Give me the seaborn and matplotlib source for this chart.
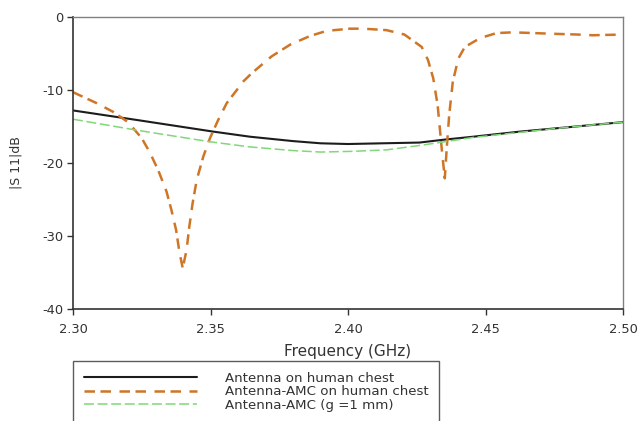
import numpy as np
import pandas as pd
import matplotlib
matplotlib.use("Agg")
import matplotlib.pyplot as plt
import seaborn as sns

# ===== data (GHz, dB) =====
FREQ_CHEST = [2.30, 2.3231, 2.351, 2.3644, 2.38, 2.39, 2.40, 2.4127, 2.426, 2.435,
              2.4455, 2.4625, 2.48, 2.50]
S11_CHEST = [-12.8, -14.1, -15.7, -16.4, -17.0, -17.3, -17.4, -17.3, -17.2, -16.8,
             -16.4, -15.7, -15.1, -14.4]

FREQ_AMC_CHEST = [2.300, 2.3086, 2.3146, 2.320, 2.325, 2.328, 2.331, 2.334, 2.3359, 2.3375,
                  2.3387, 2.3399, 2.3413, 2.3423, 2.3435, 2.345, 2.3474, 2.3498, 2.3528, 2.3559,
                  2.362, 2.365, 2.3722, 2.3789, 2.3862, 2.3922, 2.4007, 2.4055, 2.414, 2.4205,
                  2.4268, 2.4291, 2.431, 2.4326, 2.4335, 2.4343, 2.4352, 2.4359, 2.4368, 2.4381,
                  2.4401, 2.4425, 2.448, 2.454, 2.46, 2.4746, 2.4833, 2.489, 2.50]
S11_AMC_CHEST = [-10.3, -11.8, -13.0, -14.4, -16.6, -18.6, -21.0, -23.9, -26.6, -29.2,
                 -32.2, -34.4, -31.9, -28.7, -25.5, -22.3, -19.1, -16.6, -14.1, -11.8,
                 -8.8, -7.7, -5.4, -3.8, -2.6, -1.9, -1.6, -1.6, -1.8, -2.4,
                 -4.1, -5.9, -8.4, -12.1, -15.7, -18.9, -22.1, -18.0, -13.4, -8.9,
                 -5.7, -4.1, -2.9, -2.2, -2.1, -2.3, -2.4, -2.5, -2.4]

FREQ_AMC_GAP = [2.30, 2.3231, 2.35, 2.3644, 2.38, 2.39, 2.4018, 2.414, 2.426, 2.435,
                2.4455, 2.4625, 2.48, 2.50]
S11_AMC_GAP = [-14.0, -15.5, -17.1, -17.8, -18.3, -18.5, -18.4, -18.2, -17.6, -17.1,
               -16.5, -15.8, -15.1, -14.4]

LABELS = ["Antenna on human chest", "Antenna-AMC on human chest", "Antenna-AMC (g =1 mm)"]
COLORS = ["#1c1c1c", "#cf7526", "#80d878"]

df = pd.concat([
    pd.DataFrame({"freq": FREQ_CHEST, "s11": S11_CHEST, "series": LABELS[0]}),
    pd.DataFrame({"freq": FREQ_AMC_CHEST, "s11": S11_AMC_CHEST, "series": LABELS[1]}),
    pd.DataFrame({"freq": FREQ_AMC_GAP, "s11": S11_AMC_GAP, "series": LABELS[2]}),
])

sns.set_style("ticks")
plt.rcParams["font.family"] = ["DejaVu Sans"]
plt.rcParams["axes.unicode_minus"] = False

fig = plt.figure(figsize=(6.38, 4.21), dpi=100)
ax = fig.add_axes([73 / 638, 1 - 309 / 421, 550 / 638, 292 / 421])

widths = [1.5, 1.8, 1.1]
dashes = [None, (4.2, 2.2, 4.2, 3.4), (6.5, 2.4)]
for lab, col, lw, ds in zip(LABELS, COLORS, widths, dashes):
    sub = df[df["series"] == lab]
    sns.lineplot(data=sub, x="freq", y="s11", ax=ax, color=col, lw=lw,
                 legend=False, sort=False)
    if ds is not None:
        ax.lines[-1].set_dashes(ds)

ax.set_xlim(2.30, 2.50)
ax.set_ylim(-40, 0)
ax.set_xticks([2.30, 2.35, 2.40, 2.45, 2.50])
ax.set_xticklabels(["2.30", "2.35", "2.40", "2.45", "2.50"])
ax.set_yticks([-40, -30, -20, -10, 0])
ax.tick_params(direction="out", length=4, width=1, labelsize=9.4, colors="#333333", pad=3)
ax.tick_params(axis="x", pad=6)
for s in ["left", "bottom"]:
    ax.spines[s].set_color("#333333")
    ax.spines[s].set_linewidth(1.2)
for s in ["top", "right"]:
    ax.spines[s].set_visible(True)
    ax.spines[s].set_color("#808080")
    ax.spines[s].set_linewidth(1.0)

ax.set_xlabel("Frequency (GHz)", fontsize=11, color="#333333", labelpad=6)
ax.set_ylabel("|S 11|dB", fontsize=9, color="#333333", labelpad=14)

handles = ax.lines[:3]
leg = fig.legend(handles, LABELS, loc="upper left", bbox_to_anchor=(73 / 638, 1 - 361 / 421),
                 frameon=True, fancybox=False, edgecolor="#333333", fontsize=9.6,
                 handlelength=8.5, handletextpad=2.1, labelspacing=0.05, borderpad=0.8,
                 borderaxespad=0)
leg.get_frame().set_linewidth(1.0)
for t in leg.get_texts():
    t.set_color("#333333")

fig.savefig("out.png", dpi=100, facecolor="white")
